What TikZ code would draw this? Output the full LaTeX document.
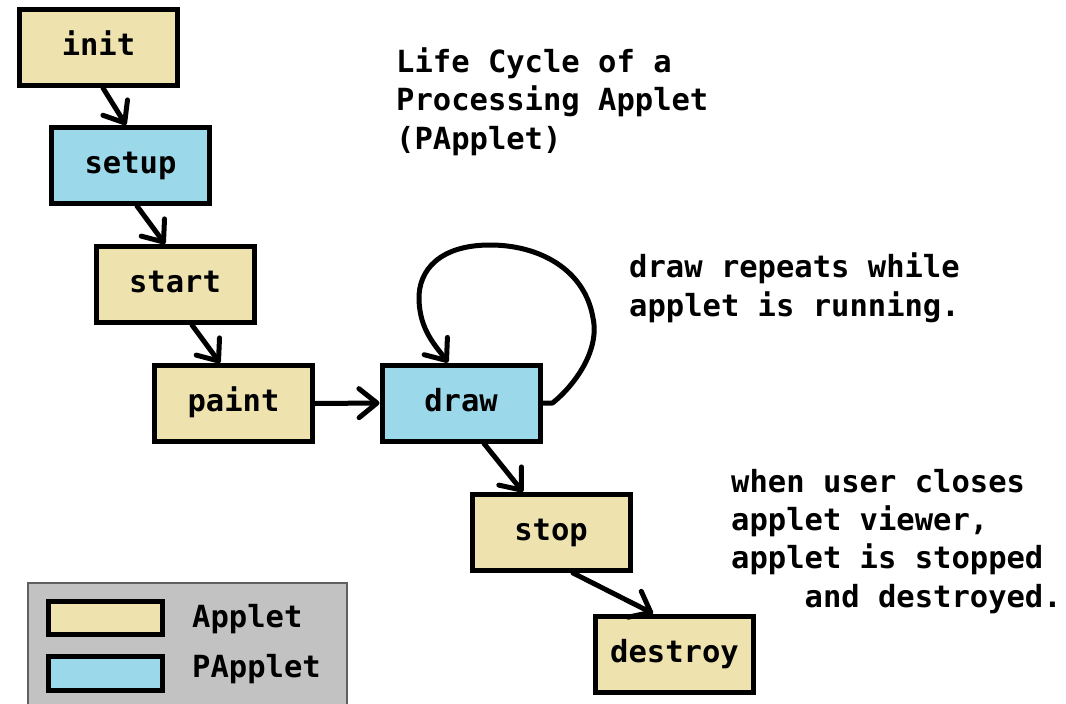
\documentclass[tikz,border=0pt]{standalone}
\usepackage{fontspec}
\setmonofont{DejaVu Sans Mono}
\usetikzlibrary{arrows.meta}
\definecolor{appletfill}{RGB}{238,226,174}
\definecolor{pappletfill}{RGB}{155,217,234}
\definecolor{legendfill}{RGB}{194,194,194}
\definecolor{legendedge}{RGB}{96,96,96}
\tikzset{
  codetext/.style={font=\ttfamily\bfseries\fontsize{30.5}{38.3}\selectfont},
  stage/.style={codetext, draw=black, line width=5pt, minimum width=158pt,
    minimum height=76pt, inner sep=0pt, text height=24pt, text depth=8pt},
  appletbox/.style={stage, fill=appletfill},
  pappletbox/.style={stage, fill=pappletfill},
  swatch/.style={draw=black, line width=5pt, minimum width=114pt, inner sep=0pt},
  flow/.style={line width=5pt, line cap=round, line join=round,
    -{Straight Barb[length=18pt,width=29pt,round]}},
  note/.style={codetext, anchor=base west, align=left, inner sep=0pt},
}
\begin{document}
\begin{tikzpicture}[x=1pt, y=-1pt]
\useasboundingbox (0,0) rectangle (1066,704);
\fill[white] (0,0) rectangle (1066,704);

% life-cycle stages
\node[appletbox]  (init)    at (98.5,47.5)  {init};
\node[pappletbox] (setup)   at (130.5,165.5) {setup};
\node[appletbox]  (start)   at (175,284.5)  {start};
\node[appletbox]  (paint)   at (233.5,403.5) {paint};
\node[pappletbox] (drawst)  at (461,403)    {draw};
\node[appletbox]  (stop)    at (551,532.5)  {stop};
\node[appletbox]  (destroy) at (674.5,654)  {destroy};

% transitions
\draw[flow] ([xshift=4.5pt]init.south) -- ([xshift=-4.5pt]setup.north);
\draw[flow] ([xshift=6.5pt]setup.south) -- ([xshift=-10pt]start.north);
\draw[flow] ([xshift=17pt]start.south) -- ([xshift=-13.5pt]paint.north);
\draw[flow] (paint.east) -- (drawst.west);
\draw[flow] ([xshift=23pt]drawst.south) -- ([xshift=-28pt]stop.north);
\draw[flow] ([xshift=22pt]stop.south) -- ([xshift=-21.5pt]destroy.north);

% draw repeats: loop back onto itself
\draw[flow] (drawst.east) -- ++(10,0)
  .. controls (575,385) and (600,350) .. (593,318)
  .. controls (585,270) and (540,245) .. (490,245)
  .. controls (440,245) and (418,270) .. (419,300)
  .. controls (420,330) and (435,345) .. ([xshift=-13pt]drawst.north);

% annotations (anchored at the baseline of their last line)
\node[note] (title) at (396,149) {Life Cycle of a\\Processing Applet\\(PApplet)};
\node[note] (loopnote) at (629,316) {draw repeats while\\applet is running.};
\node[note] (closenote) at (731,607)
  {when user closes\\applet viewer,\\applet is stopped\\\hphantom{xxxx}and destroyed.};

% legend
\fill[legendfill] (28,583) rectangle (347,706);
\draw[legendedge, line width=1.5pt] (28,706) -- (28,583) -- (347,583) -- (347,706);
\node[swatch, fill=appletfill, minimum height=33pt] (keyapplet) at (105.5,618) {};
\node[swatch, fill=pappletfill, minimum height=34pt] (keypapplet) at (105.5,673.5) {};
\node[note] (keyappletlabel) at (192,627) {Applet};
\node[note] (keypappletlabel) at (192,677) {PApplet};
\end{tikzpicture}
\end{document}
